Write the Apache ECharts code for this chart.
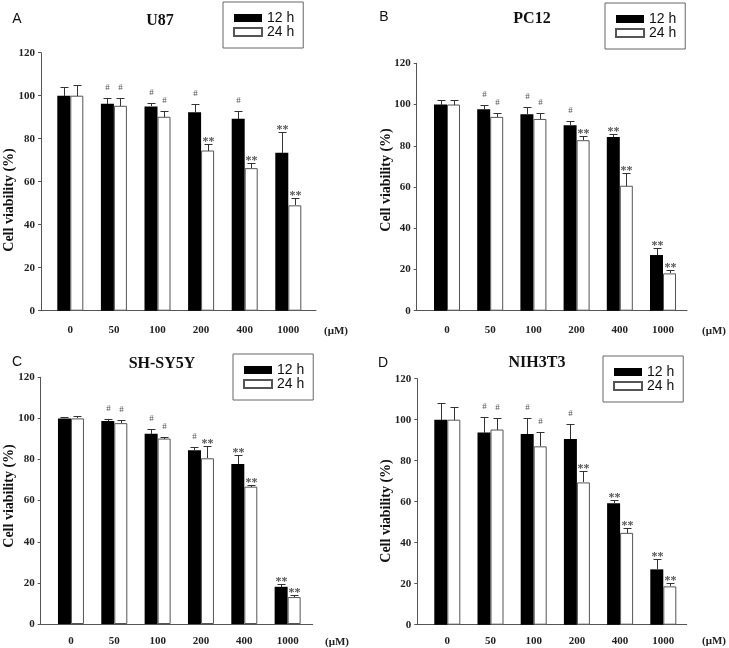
<!DOCTYPE html>
<html>
<head>
<meta charset="utf-8">
<script src="https://cdn.jsdelivr.net/npm/echarts@6/dist/echarts.min.js"></script>
<style>
  html, body { margin: 0; padding: 0; background: #fff; }
  #main { width: 729px; height: 648px; }
</style>
</head>
<body>
<div id="main"></div>
<script>
// doses (uM)
const doses = ['0', '50', '100', '200', '400', '1000']

// A - U87
const u87_12 = [100, 96.3, 95, 92.3, 89.3, 73.5]
const u87_12_err = [4, 2.4, 1.8, 4, 3.7, 9.8]
const u87_24 = [100, 95.3, 90.2, 74.5, 66.3, 49]
const u87_24_err = [5, 3.5, 2.8, 3, 2.6, 3.2]
const u87_12_sig = ['', '#', '#', '#', '#', '**']
const u87_24_sig = ['', '#', '#', '**', '**', '**']

// B - PC12
const pc12_12 = [100, 97.7, 95.3, 89.9, 84.3, 27]
const pc12_12_err = [2, 2.3, 3.3, 2, 1.3, 3.4]
const pc12_24 = [100, 94, 93, 82.7, 60.6, 18.1]
const pc12_24_err = [2, 2.1, 2.8, 2, 6.2, 1.5]
const pc12_12_sig = ['', '#', '#', '#', '**', '**']
const pc12_24_sig = ['', '#', '#', '**', '**', '**']

// C - SH-SY5Y
const shsy_12 = [100, 98.8, 92.6, 84.5, 77.8, 18.1]
const shsy_12_err = [0.5, 1.1, 2.2, 1.8, 4.2, 1.2]
const shsy_24 = [100, 97.7, 90.2, 80.6, 66.8, 13.1]
const shsy_24_err = [1, 1.5, 0.8, 5.8, 0.7, 0.8]
const shsy_12_sig = ['', '#', '#', '#', '**', '**']
const shsy_24_sig = ['', '#', '#', '**', '**', '**']

// D - NIH3T3
const nih_12 = [100, 93.7, 93, 90.6, 59.3, 27]
const nih_12_err = [8, 7.5, 8, 7.3, 1.7, 5]
const nih_24 = [100, 95.2, 87, 69.4, 44.8, 18.7]
const nih_24_err = [6, 5.4, 6.8, 5.7, 2.2, 1.6]
const nih_12_sig = ['', '#', '#', '#', '**', '**']
const nih_24_sig = ['', '#', '#', '**', '**', '**']

const serif = 'Liberation Serif, Times New Roman, serif'
const sans = 'Liberation Sans, Arial, sans-serif'
const BAR_W = 13

const panels = [
    { letter: 'A', title: 'U87', d12: u87_12, e12: u87_12_err, s12: u87_12_sig, d24: u87_24, e24: u87_24_err, s24: u87_24_sig,
      frame: { left: 41, top: 52.7, width: 275, height: 258 }, bars: { left: 48.5, width: 261.6 },
      letterPos: [17, 19], titlePos: [160, 21], yTitlePos: [9, 200], umPos: [336, 331], labelMargin: 14,
      legendPos: [223, 2] },
    { letter: 'B', title: 'PC12', d12: pc12_12, e12: pc12_12_err, s12: pc12_12_sig, d24: pc12_24, e24: pc12_24_err, s24: pc12_24_sig,
      frame: { left: 416.7, top: 63.3, width: 270.3, height: 247.4 }, bars: { left: 425.4, width: 259.2 },
      letterPos: [384, 17], titlePos: [532, 19], yTitlePos: [386, 180], umPos: [714, 331], labelMargin: 14,
      legendPos: [605, 3] },
    { letter: 'C', title: 'SH-SY5Y', d12: shsy_12, e12: shsy_12_err, s12: shsy_12_sig, d24: shsy_24, e24: shsy_24_err, s24: shsy_24_sig,
      frame: { left: 40.7, top: 377.3, width: 272, height: 246.7 }, bars: { left: 49.3, width: 260 },
      letterPos: [17, 362], titlePos: [162, 364], yTitlePos: [9, 496], umPos: [337, 642], labelMargin: 12,
      legendPos: [233, 354] },
    { letter: 'D', title: 'NIH3T3', d12: nih_12, e12: nih_12_err, s12: nih_12_sig, d24: nih_24, e24: nih_24_err, s24: nih_24_sig,
      frame: { left: 417.3, top: 378.7, width: 269.4, height: 246 }, bars: { left: 425.7, width: 259.2 },
      letterPos: [383, 363], titlePos: [537, 363], yTitlePos: [386, 511], umPos: [714, 641], labelMargin: 11,
      legendPos: [603, 356] }
]

const errRender = (sig, offset) => (params, api) => {
    const i = api.value(0)
    const v = api.value(1)
    const e = api.value(2)
    const base = api.coord([i, v])
    const top = api.coord([i, v + e])
    const x = Math.round(base[0] + offset) + 0.5
    const y0 = Math.round(base[1])
    const y1 = Math.round(top[1]) + 0.5
    const mark = sig[params.dataIndex]
    const children = [
        { type: 'line', shape: { x1: x, y1: y0, x2: x, y2: y1 }, style: { stroke: '#333', lineWidth: 1 } },
        { type: 'line', shape: { x1: x - 4, y1: y1, x2: x + 4, y2: y1 }, style: { stroke: '#333', lineWidth: 1 } }
    ]
    if (mark) {
        const star = mark === '**'
        children.push({
            type: 'text',
            style: {
                x: x, y: y1 - (star ? 3 : 6),
                text: mark,
                fill: '#555',
                font: (star ? 'bold 12px ' : '9px ') + serif,
                textAlign: 'center',
                textVerticalAlign: star ? 'middle' : 'bottom'
            }
        })
    }
    return { type: 'group', children }
}

const grid = []
const xAxis = []
const yAxis = []
const series = []
const legend = []
const graphic = []

panels.forEach((p, k) => {
    const gf = 2 * k
    const gb = 2 * k + 1
    grid.push({ left: p.frame.left, top: p.frame.top, width: p.frame.width, height: p.frame.height })
    grid.push({ left: p.bars.left, top: p.frame.top, width: p.bars.width, height: p.frame.height })

    // frame axes
    xAxis.push({
        gridIndex: gf, type: 'value', min: 0, max: 1,
        axisLine: { show: true, lineStyle: { color: '#555', width: 1 } },
        axisTick: { show: false }, axisLabel: { show: false }, splitLine: { show: false }
    })
    yAxis.push({
        gridIndex: gf, type: 'value', min: 0, max: 120, interval: 20,
        axisLine: { show: true, lineStyle: { color: '#555', width: 1 } },
        axisTick: { show: true, length: 3, lineStyle: { color: '#555' } },
        axisLabel: { margin: 6, fontFamily: serif, fontWeight: 'bold', fontSize: 11, color: '#222' },
        splitLine: { show: false }
    })
    // bar axes
    xAxis.push({
        gridIndex: gb, type: 'category', data: doses,
        axisLine: { show: false }, axisTick: { show: false },
        axisLabel: { margin: p.labelMargin, fontFamily: serif, fontWeight: 'bold', fontSize: 11, color: '#222' }
    })
    yAxis.push({ gridIndex: gb, type: 'value', min: 0, max: 120, show: false })

    series.push({
        name: '12 h', type: 'bar', xAxisIndex: gb, yAxisIndex: gb,
        barWidth: BAR_W, barGap: '0%',
        itemStyle: { color: '#000', borderColor: '#000', borderWidth: 0 },
        data: p.d12
    })
    series.push({
        name: '24 h', type: 'bar', xAxisIndex: gb, yAxisIndex: gb,
        barWidth: BAR_W, barGap: '0%',
        itemStyle: { color: '#fff', borderColor: '#555', borderWidth: 1 },
        data: p.d24
    })
    series.push({
        name: 'err12', type: 'custom', xAxisIndex: gb, yAxisIndex: gb,
        renderItem: errRender(p.s12, -BAR_W / 2),
        encode: { x: 0, y: 1 }, z: 5,
        data: p.d12.map((v, i) => [i, v, p.e12[i]])
    })
    series.push({
        name: 'err24', type: 'custom', xAxisIndex: gb, yAxisIndex: gb,
        renderItem: errRender(p.s24, BAR_W / 2),
        encode: { x: 0, y: 1 }, z: 5,
        data: p.d24.map((v, i) => [i, v, p.e24[i]])
    })

    legend.push({
        left: p.legendPos[0], top: p.legendPos[1], orient: 'vertical',
        data: ['12 h', '24 h'], icon: 'rect',
        itemWidth: 28, itemHeight: 8, itemGap: 0,
        padding: [9, 9, 9, 10],
        borderColor: '#666', borderWidth: 1,
        selectedMode: false,
        textStyle: { fontFamily: sans, fontSize: 14, color: '#111' }
    })

    graphic.push({
        type: 'text', x: p.letterPos[0], y: p.letterPos[1],
        style: { text: p.letter, font: '14px ' + sans, fill: '#111', textAlign: 'center', textVerticalAlign: 'middle' }
    })
    graphic.push({
        type: 'text', x: p.titlePos[0], y: p.titlePos[1],
        style: { text: p.title, font: 'bold 16px ' + serif, fill: '#111', textAlign: 'center', textVerticalAlign: 'middle' }
    })
    graphic.push({
        type: 'text', x: p.yTitlePos[0], y: p.yTitlePos[1], rotation: Math.PI / 2,
        style: { text: 'Cell viability (%)', font: 'bold 14px ' + serif, fill: '#111', textAlign: 'center', textVerticalAlign: 'middle' }
    })
    graphic.push({
        type: 'text', x: p.umPos[0], y: p.umPos[1],
        style: { text: '(\u03bcM)', font: 'bold 11px ' + serif, fill: '#222', textAlign: 'center', textVerticalAlign: 'middle' }
    })
})

const myChart = echarts.init(document.getElementById('main'))
myChart.setOption({
    animation: false,
    backgroundColor: '#fff',
    grid, xAxis, yAxis, series, legend, graphic
})
</script>
</body>
</html>
